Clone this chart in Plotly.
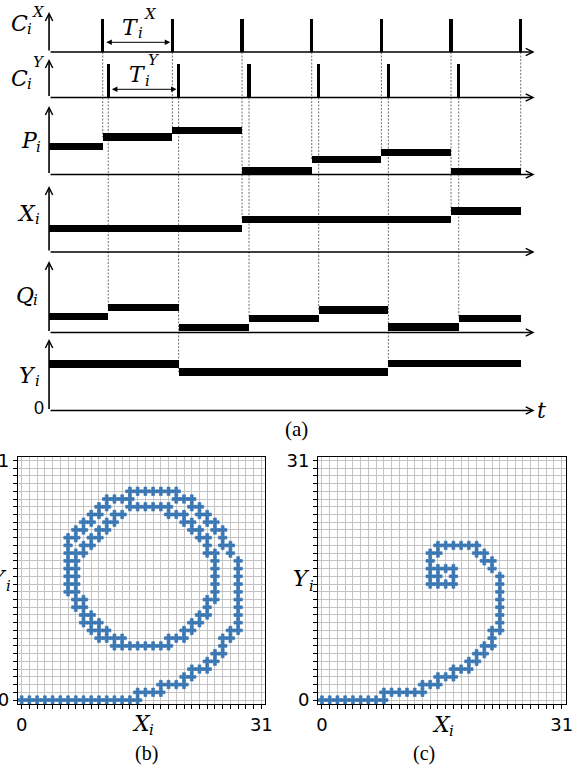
import plotly.graph_objects as go

W, H = 587, 769

# ---------------- (a) timing diagram ----------------
cx_times = [1, 2, 3, 4, 5, 6, 7]                    # C_i^X update pulses
cy_times = [1.08, 2.09, 3.10, 4.10, 5.10, 6.11]     # C_i^Y update pulses
cx_pulse = [3.3, 3.3, 3.3, 3.3, 3.3, 3.3, 3.3]
cy_pulse = [3.35, 3.35, 3.35, 3.35, 3.35, 3.35]
t_origin = 0.23
t_stop = 7
t_arrow = 7.2

p_levels = [2.82, 3.73, 4.40, 0.40, 1.50, 2.20, 0.30]
x_levels = [2.37, 3.23, 4.12]
q_levels = [1.62, 2.48, 0.52, 1.38, 2.25, 0.53, 1.40]
y_levels = [4.67, 3.83, 4.70]

p_edges = [t_origin] + cx_times
x_edges = [t_origin, cx_times[2], cx_times[5], t_stop]
q_edges = [t_origin] + cy_times + [t_stop]
y_edges = [t_origin, cy_times[1], cy_times[4], t_stop]

cx_guide = ['P', 'P', 'X', 'P', 'P', 'X', 'P']
cy_guide = ['Q', 'Y', 'Q', 'Q', 'Y', 'Q']

# ---------------- (b), (c) trajectories: (Y_i, visited X_i cells) ----------------
traj_b = [
    (0, [0, 1, 2, 3, 4, 5, 6, 7, 8, 9, 10, 11, 12, 13, 14, 15]),
    (1, [15, 16, 17, 18]),
    (2, [18, 19, 20, 21]),
    (3, [21, 22]),
    (4, [22, 23, 24]),
    (5, [24, 25]),
    (6, [25, 26]),
    (7, [12, 13, 14, 15, 16, 17, 18, 19, 26]),
    (8, [10, 11, 12, 13, 19, 20, 21, 26, 27]),
    (9, [9, 10, 11, 21, 22, 27, 28]),
    (10, [8, 9, 10, 22, 23, 28]),
    (11, [8, 9, 23, 24, 28]),
    (12, [7, 8, 24, 28]),
    (13, [7, 8, 24, 25, 28]),
    (14, [6, 7, 25, 28]),
    (15, [6, 7, 25, 28]),
    (16, [6, 7, 25, 28]),
    (17, [6, 7, 25, 28]),
    (18, [6, 7, 25, 28]),
    (19, [6, 7, 8, 24, 25, 27]),
    (20, [6, 8, 9, 24, 26, 27]),
    (21, [6, 7, 9, 10, 23, 24, 26]),
    (22, [7, 8, 10, 11, 22, 23, 25, 26]),
    (23, [8, 9, 11, 12, 21, 22, 24, 25]),
    (24, [9, 10, 12, 13, 19, 20, 21, 23, 24]),
    (25, [10, 11, 14, 15, 16, 17, 18, 19, 22, 23]),
    (26, [11, 12, 13, 14, 20, 21, 22]),
    (27, [14, 15, 16, 17, 18, 19, 20]),
]
traj_c = [
    (0, [0, 1, 2, 3, 4, 5, 6, 7, 8]),
    (1, [8, 9, 10, 11, 12, 13]),
    (2, [13, 14, 15]),
    (3, [15, 16, 17]),
    (4, [17, 18, 19]),
    (5, [19, 20]),
    (6, [20, 21]),
    (7, [21, 22]),
    (8, [22]),
    (9, [22, 23]),
    (10, [23]),
    (11, [23]),
    (12, [23]),
    (13, [23]),
    (14, [23]),
    (15, [14, 15, 16, 17, 23]),
    (16, [14, 15, 17, 23]),
    (17, [14, 15, 16, 17, 22]),
    (18, [14, 21, 22]),
    (19, [14, 15, 20, 21]),
    (20, [15, 16, 17, 18, 19, 20]),
]

# ---------------- geometry ----------------
T_PX1 = 102.7      # pixel of t = 1
T_SCALE = 69.67    # pixels per clock period
UNIT = 10.0        # pixels per level unit
PAD = 0.5
BAR_H = 0.75
PULSE_W = 0.048

rows = [  # name, y-axis id, baseline px, arrow tip px
    ('CX', 'y', 52.0, 12.0),
    ('CY', 'y2', 97.5, 59.0),
    ('P', 'y3', 174.5, 106.0),
    ('X', 'y4', 252.0, 186.0),
    ('Q', 'y5', 332.5, 261.0),
    ('Y', 'y6', 410.5, 339.0),
]


def t_at_px(p):
    return 1 + (p - T_PX1) / T_SCALE


def py(p):
    return 1 - p / H


layout_axes = {}
row_info = {}
for name, ax, base, tip in rows:
    top = (base - tip) / UNIT
    key = 'yaxis' + ax[1:]
    layout_axes[key] = dict(domain=[(H - base - PAD * UNIT) / H, (H - tip) / H],
                            range=[-PAD, top], visible=False, anchor='x', fixedrange=True)
    row_info[name] = (ax, base, top)

layout_axes['xaxis'] = dict(domain=[0, 1], range=[t_at_px(0), t_at_px(W)], visible=False,
                            anchor='y6', fixedrange=True)

traces = []


def level_bars(edges, levels, ax):
    mids = [(a + b) / 2 for a, b in zip(edges[:-1], edges[1:])]
    widths = [b - a for a, b in zip(edges[:-1], edges[1:])]
    return go.Bar(x=mids, y=[BAR_H] * len(levels), base=[v - BAR_H / 2 for v in levels],
                  width=widths, marker=dict(color='black', line_width=0),
                  xaxis='x', yaxis=ax, hoverinfo='skip')


traces.append(go.Bar(x=cx_times, y=cx_pulse, base=0, width=PULSE_W,
                     marker=dict(color='black', line_width=0), xaxis='x', yaxis='y', hoverinfo='skip'))
traces.append(go.Bar(x=cy_times, y=cy_pulse, base=0, width=PULSE_W,
                     marker=dict(color='black', line_width=0), xaxis='x', yaxis='y2', hoverinfo='skip'))
traces.append(level_bars(p_edges, p_levels, 'y3'))
traces.append(level_bars(x_edges, x_levels, 'y4'))
traces.append(level_bars(q_edges, q_levels, 'y5'))
traces.append(level_bars(y_edges, y_levels, 'y6'))

signals = {'P': (p_edges, p_levels), 'X': (x_edges, x_levels),
           'Q': (q_edges, q_levels), 'Y': (y_edges, y_levels)}


def level_at(name, t):
    edges, levels = signals[name]
    for i in range(len(levels)):
        if edges[i] <= t < edges[i + 1]:
            return levels[i]
    return levels[-1]


def row_paper(name, v):
    ax, base, top = row_info[name]
    return (H - base + v * UNIT) / H


shapes = []
for clock, times, guides in (('CX', cx_times, cx_guide), ('CY', cy_times, cy_guide)):
    for t, g in zip(times, guides):
        shapes.append(dict(type='line', xref='x', yref='paper', x0=t, x1=t,
                           y0=row_paper(clock, 0), y1=row_paper(g, level_at(g, t)),
                           line=dict(color='#707070', width=1, dash='2px,1.5px'), layer='below'))

annotations = []
for name, ax, base, tip in rows:
    top = row_info[name][2]
    # vertical axis with arrow
    annotations.append(dict(x=t_origin, y=top, ax=t_origin, ay=0, xref='x', yref=ax,
                            axref='x', ayref=ax, text='', showarrow=True, arrowhead=5,
                            arrowsize=0.9, arrowwidth=1.6, arrowcolor='black'))
    # time axis with arrow
    annotations.append(dict(x=t_arrow, y=0, ax=t_origin, ay=0, xref='x', yref=ax,
                            axref='x', ayref=ax, text='', showarrow=True, arrowhead=5,
                            arrowsize=0.9, arrowwidth=1.6, arrowcolor='black'))

# period markers T_i^X and T_i^Y
for ax, t0, t1, v in (('y', cx_times[0], cx_times[1], 0.97), ('y2', cy_times[0], cy_times[1], 0.82)):
    annotations.append(dict(x=t1 - 0.03, y=v, ax=t0 + 0.03, ay=v, xref='x', yref=ax,
                            axref='x', ayref=ax, text='', showarrow=True, arrowhead=2,
                            startarrowhead=2, arrowside='end+start', arrowsize=1.1,
                            startarrowsize=1.1, arrowwidth=1, arrowcolor='black'))

MATH = 'DejaVu Serif'


def label(s, x, y, size, family=MATH, anchor='center'):
    annotations.append(dict(text=s, x=x / W, y=py(y), xref='paper', yref='paper',
                            showarrow=False, xanchor=anchor, yanchor='middle', borderpad=0,
                            font=dict(size=size, family=family, color='black')))


BIG, SMALL = 22, 15


def symbol(main, x_join, y_main, y_sub, sup=None, x_sup=None, y_sup=None):
    """Italic letter ending at x_join, subscript i tucked after it, optional superscript."""
    label('<i>%s</i>' % main, x_join, y_main, BIG, anchor='right')
    label('<i>i</i>', x_join - 3.5, y_sub, SMALL, anchor='left')
    if sup:
        label('<i>%s</i>' % sup, x_sup - 2, y_sup, SMALL, anchor='left')


symbol('C', 29, 23, 29, 'X', 33, 12)
symbol('C', 29, 78, 84, 'Y', 33.5, 62)
symbol('T', 140, 27.5, 33, 'X', 144.5, 14.5)
symbol('T', 147, 74.5, 80.5, 'Y', 148.5, 60)
symbol('P', 38.5, 140.5, 147)
symbol('X', 37, 213, 219)
symbol('Q', 35, 295, 300)
symbol('Y', 37, 375, 381)

label('0', 39, 407.5, 18, 'Liberation Sans')
label('<i>t</i>', 541, 410, 22)
label('(a)', 296.5, 429, 21, 'Liberation Serif')

# ---------------- (b) and (c) ----------------
MARK = '#3b77b2'
for traj, xa, ya in ((traj_b, 'x2', 'y7'), (traj_c, 'x3', 'y8')):
    xs, ys = [], []
    for yv, xlist in traj:
        xs += xlist
        ys += [yv] * len(xlist)
    traces.append(go.Scatter(x=xs, y=ys, mode='markers', xaxis=xa, yaxis=ya,
                             marker=dict(symbol='cross', size=7.0, color=MARK,
                                         line=dict(width=0.7, color=MARK)), hoverinfo='skip'))


def grid_axis(domain, anchor):
    return dict(domain=domain, range=[-0.5, 31.5], anchor=anchor, tickmode='array',
                tickvals=list(range(32)), ticktext=['0'] + [''] * 30 + ['31'],
                ticks='outside', ticklen=4, tickwidth=1, tickcolor='black',
                showgrid=True, gridcolor='#c4c4c4', gridwidth=1,
                showline=True, linecolor='black', linewidth=1, mirror=True,
                zeroline=False, fixedrange=True,
                tickfont=dict(family='DejaVu Sans', size=18, color='black'))


ydom = [(H - 703.9) / H, (H - 456.5) / H]
layout_axes['xaxis2'] = grid_axis([17.8 / W, 265.2 / W], 'y7')
layout_axes['yaxis7'] = grid_axis(ydom, 'x2')
layout_axes['xaxis3'] = grid_axis([318.1 / W, 565.5 / W], 'y8')
layout_axes['yaxis8'] = grid_axis(ydom, 'x3')

# axis names and captions of (b) and (c)
symbol('Y', 8, 578, 586)
symbol('X', 152, 723.5, 730)
label('(b)', 146, 753, 20, 'Liberation Serif')
symbol('Y', 311, 578, 586)
symbol('X', 451.5, 724.5, 731)
label('(c)', 424, 753, 20, 'Liberation Serif')

fig = go.Figure(data=traces)
fig.update_layout(width=W, height=H, margin=dict(l=0, r=0, t=0, b=0),
                  template='none', paper_bgcolor='white', plot_bgcolor='rgba(0,0,0,0)',
                  showlegend=False, barmode='overlay', bargap=0,
                  shapes=shapes, annotations=annotations, **layout_axes)
fig.write_html("out.html")
